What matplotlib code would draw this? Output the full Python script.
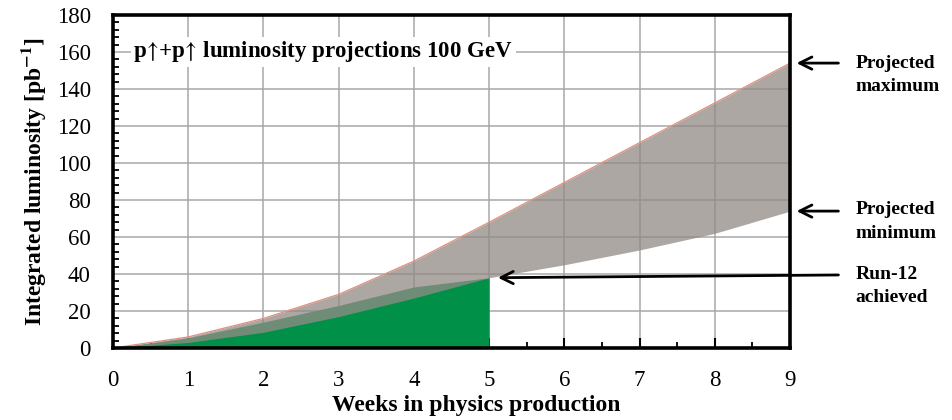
import numpy as np
import matplotlib.pyplot as plt
from matplotlib.ticker import MultipleLocator

plt.rcParams['font.family'] = ['Liberation Serif', 'DejaVu Serif']
plt.rcParams['mathtext.fontset'] = 'stix'

# data
weeks = [0, 1, 2, 3, 4, 5, 6, 7, 8, 9]
proj_max = [0, 6, 16, 29, 47, 68, 89.5, 111, 132.5, 154]
proj_min = [0, 3, 8.5, 17, 27, 38, 45, 53, 62, 74]
achieved_weeks = [0, 1, 2, 3, 4, 5]
achieved = [0, 5.5, 14, 23, 33, 38]

fig = plt.figure(figsize=(9.53, 4.2), dpi=100)
ax = fig.add_axes([0.1186, 0.1714, 0.7104, 0.7929])

ax.set_xlim(0, 9)
ax.set_ylim(0, 180)
ax.grid(True, color='#a8a8a8', lw=1.1, zorder=0)
ax.set_axisbelow(True)

# achieved (opaque green), then the projection band on top, semi-transparent
ax.fill_between(achieved_weeks, 0, achieved, color='#009048', lw=0, zorder=1)
ax.fill_between(weeks, proj_min, proj_max, color='#928b85', alpha=0.76, lw=0, zorder=2)
ax.plot(weeks, proj_max, color='#e0907e', lw=0.9, zorder=3)

ax.xaxis.set_major_locator(MultipleLocator(1))
ax.xaxis.set_minor_locator(MultipleLocator(0.5))
ax.yaxis.set_major_locator(MultipleLocator(20))
ax.yaxis.set_minor_locator(MultipleLocator(4))
ax.tick_params(axis='both', which='major', direction='in', length=7, width=1.5,
               labelsize=16.5, color='black')
ax.tick_params(axis='both', which='minor', direction='in', length=4.5, width=1.3)
ax.tick_params(axis='x', which='major', pad=16)
ax.tick_params(axis='y', which='major', pad=16)
ax.tick_params(axis='y', which='major', length=0)

for s in ax.spines.values():
    s.set_linewidth(2.6)
    s.set_zorder(5)

ax.set_xlabel('Weeks in physics production', fontsize=17, fontweight='bold')
ax.xaxis.set_label_coords(0.536, -0.14)
ax.set_ylabel(r'Integrated luminosity [pb$^{\mathbf{-1}}$]', fontsize=17,
              fontweight='bold', labelpad=6)

ax.text(0.27, 160, r'p$\!\uparrow\!$+p$\!\uparrow\!$ luminosity projections 100 GeV',
        fontsize=16.5, fontweight='bold', va='center', ha='left', zorder=6,
        bbox=dict(facecolor='white', edgecolor='none', pad=2))

arrow = dict(arrowstyle='->', lw=2, color='black', mutation_scale=22)
ax.annotate('', xy=(9.05, proj_max[-1]), xytext=(9.68, proj_max[-1]),
            arrowprops=arrow, annotation_clip=False)
ax.annotate('', xy=(9.05, proj_min[-1]), xytext=(9.68, proj_min[-1]),
            arrowprops=arrow, annotation_clip=False)
ax.annotate('', xy=(5.08, achieved[-1]), xytext=(9.68, achieved[-1] + 1.5),
            arrowprops=arrow, annotation_clip=False, zorder=7)

lab = dict(fontsize=14, fontweight='bold', va='center', ha='left',
           linespacing=1.5, annotation_clip=False)
ax.annotate('Projected\nmaximum', xy=(9.87, proj_max[-1] - 6.5), **lab)
ax.annotate('Projected\nminimum', xy=(9.87, proj_min[-1] - 5.5), **lab)
ax.annotate('Run-12\nachieved', xy=(9.87, achieved[-1] - 4.5), **lab)

plt.savefig('out.png', dpi=100)
